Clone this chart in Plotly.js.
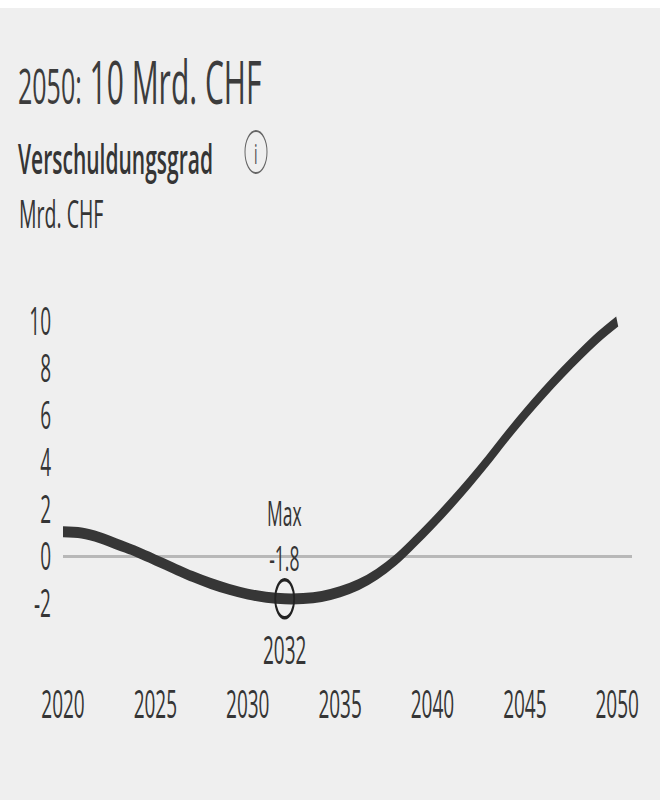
<!DOCTYPE html>
<html>
<head>
<meta charset="utf-8">
<script src="https://cdn.plot.ly/plotly-3.0.1.min.js"></script>
<style>
  html, body { margin: 0; padding: 0; background: #ffffff; }
  #panel {
    position: absolute; left: 0; top: 8px;
    width: 660px; height: 792px;
    background: #efefef; overflow: hidden;
  }
  /* the chart is laid out at half height and stretched to the panel */
  #chart {
    width: 660px; height: 396px;
    transform: scale(1, 2); transform-origin: 0 0;
  }
</style>
</head>
<body>
<div id="panel"><div id="chart"></div></div>
<script>
// Verschuldungsgrad, Mrd. CHF
const years = [2020, 2021, 2022, 2023, 2024, 2025, 2026, 2027, 2028, 2029,
               2030, 2031, 2032, 2033, 2034, 2035, 2036, 2037, 2038, 2039,
               2040, 2041, 2042, 2043, 2044, 2045, 2046, 2047, 2048, 2049, 2050];
const debt = [1.05, 1.0, 0.8, 0.5, 0.2, -0.15, -0.5, -0.85, -1.15, -1.4,
              -1.6, -1.73, -1.8, -1.79, -1.7, -1.5, -1.2, -0.75, -0.15, 0.6,
              1.4, 2.25, 3.15, 4.1, 5.1, 6.05, 6.95, 7.8, 8.6, 9.35, 10.0];

// highlighted extreme
const peakYear = 2032;
const peakValue = -1.8;
const peakLabel = 'Max';

// end value shown in the headline
const endYear = 2050;
const endValue = 10;

const xTicks = [2020, 2025, 2030, 2035, 2040, 2045, 2050];
const yTicks = [-2, 0, 2, 4, 6, 8, 10];
const yTickText = ['-2', '0', '2', '4', '6', '8', '10'];

const titleText = 'Verschuldungsgrad';
const unitText = 'Mrd. CHF';

// ---- layout geometry (in the unstretched chart frame) ----
const W = 660, H = 396;
const M = { l: 63, r: 28, t: 145, b: 63 };
const plotW = W - M.l - M.r;
const plotH = H - M.t - M.b;
const px2x = px => (px - M.l) / plotW;
const py2y = py => (H - M.b - py) / plotH;

const FONT = '"Open Sans", "Noto Sans", sans-serif';
const INK = '#353535';

const traces = [
  {
    type: 'scatter', mode: 'lines',
    x: years, y: debt,
    line: { color: '#363636', width: 5.5, shape: 'spline', smoothing: 1 },
    hoverinfo: 'skip', showlegend: false
  },
  {
    type: 'scatter', mode: 'markers',
    x: [peakYear], y: [peakValue],
    marker: { symbol: 'circle-open', size: 19, color: '#222222', line: { width: 1.8, color: '#222222' } },
    hoverinfo: 'skip', showlegend: false
  }
];

const fmt = v => (v < 0 ? '-' : '') + Math.abs(v).toLocaleString('en-US');

const annotations = [
  // headline
  {
    xref: 'paper', yref: 'paper', x: px2x(16), y: py2y(36),
    xanchor: 'left', yanchor: 'middle', showarrow: false,
    text: '<span style="font-size:25px">' + endYear + ':</span> ' + endValue + ' ' + unitText,
    font: { family: FONT, size: 30, color: '#3c3c3c' }
  },
  // chart title
  {
    xref: 'paper', yref: 'paper', x: px2x(16), y: py2y(75),
    xanchor: 'left', yanchor: 'middle', showarrow: false,
    text: titleText,
    font: { family: FONT, size: 21, color: INK, weight: 600 }
  },
  // info mark
  {
    xref: 'paper', yref: 'paper', x: px2x(256), y: py2y(72),
    xanchor: 'center', yanchor: 'middle', showarrow: false,
    text: 'i',
    font: { family: FONT, size: 14, color: '#555555' }
  },
  // unit
  {
    xref: 'paper', yref: 'paper', x: px2x(17), y: py2y(102.5),
    xanchor: 'left', yanchor: 'middle', showarrow: false,
    text: unitText,
    font: { family: FONT, size: 19.5, color: INK }
  },
  // peak label and value
  {
    x: peakYear, y: peakValue, xref: 'x', yref: 'y', yshift: 32,
    xanchor: 'center', yanchor: 'middle', showarrow: false,
    text: peakLabel + '<br>' + fmt(peakValue),
    font: { family: FONT, size: 17.5, color: INK }
  },
  {
    x: peakYear, y: peakValue, xref: 'x', yref: 'y', yshift: -26,
    xanchor: 'center', yanchor: 'middle', showarrow: false,
    text: String(peakYear), font: { family: FONT, size: 19, color: INK }
  }
];

const shapes = [
  {
    type: 'circle', xref: 'paper', yref: 'paper',
    xsizemode: 'pixel', ysizemode: 'pixel',
    xanchor: px2x(256), yanchor: py2y(72),
    x0: -11, x1: 11, y0: -10.5, y1: 10.5,
    line: { color: '#666666', width: 1 }
  }
];

const layout = {
  width: W, height: H,
  margin: M,
  paper_bgcolor: '#efefef', plot_bgcolor: 'rgba(0,0,0,0)',
  font: { family: FONT, size: 19, color: INK },
  showlegend: false,
  xaxis: {
    range: [2020, 2050.8],
    tickmode: 'array', tickvals: xTicks,
    showgrid: false, zeroline: false, showline: false, ticks: '',
    ticklabelstandoff: 2,
    tickfont: { family: FONT, size: 19, color: INK },
    fixedrange: true
  },
  yaxis: {
    range: [-5, 11],
    tickmode: 'array', tickvals: yTicks, ticktext: yTickText,
    showgrid: false, showline: false, ticks: '',
    zeroline: true, zerolinecolor: '#b8b8b8', zerolinewidth: 1.5,
    ticklabelstandoff: 11,
    tickfont: { family: FONT, size: 19, color: INK },
    fixedrange: true
  },
  annotations: annotations,
  shapes: shapes
};

Plotly.newPlot('chart', traces, layout, { staticPlot: true, displayModeBar: false });
</script>
</body>
</html>
